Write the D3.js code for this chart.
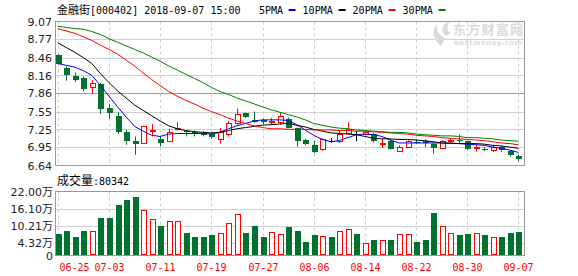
<!DOCTYPE html>
<html>
<head>
<meta charset="utf-8">
<script src="https://cdn.jsdelivr.net/npm/d3@7"></script>
<style>
body { margin: 0; background: #fff; }
svg { display: block; }
</style>
</head>
<body>
<svg id="chart"></svg>
<script>
/*
	K-line chart: 金融街 daily candles, MA lines and volume
*/

var dates = ["06-25","06-26","06-27","06-28","06-29","07-02","07-03","07-04","07-05","07-06",
	"07-09","07-10","07-11","07-12","07-13","07-16","07-17","07-18","07-19","07-20",
	"07-23","07-24","07-25","07-26","07-27","07-30","07-31","08-01","08-02","08-03",
	"08-06","08-07","08-08","08-09","08-10","08-13","08-14","08-15","08-16","08-17",
	"08-20","08-21","08-22","08-23","08-24","08-27","08-28","08-29","08-30","08-31",
	"09-03","09-04","09-05","09-06","09-07"];

var open = [8.51,8.28,8.15,8.12,7.96,8.01,7.61,7.48,7.20,7.06,
	7.02,7.23,7.08,7.05,7.25,7.22,7.20,7.19,7.18,7.08,
	7.17,7.36,7.52,7.41,7.41,7.37,7.38,7.43,7.27,7.07,
	6.99,6.91,7.05,7.05,7.19,7.17,7.17,7.17,7.00,7.06,
	6.89,6.96,7.04,7.05,7.00,6.94,7.05,7.07,7.05,6.94,
	6.91,6.90,6.95,6.88,6.80];
var close = [8.36,8.17,8.08,7.93,8.03,7.60,7.53,7.20,7.06,7.00,
	7.30,7.24,7.02,7.20,7.27,7.20,7.17,7.16,7.12,7.20,
	7.36,7.51,7.45,7.38,7.37,7.39,7.48,7.28,7.06,7.00,
	6.86,7.09,7.05,7.18,7.26,7.17,7.20,7.05,7.02,6.92,
	6.95,7.05,7.02,7.02,6.94,7.05,7.07,7.05,6.91,6.96,
	6.90,6.96,6.90,6.81,6.75];
var high = [8.52,8.31,8.21,8.14,8.08,8.03,7.68,7.54,7.24,7.13,
	7.31,7.34,7.13,7.26,7.37,7.24,7.23,7.22,7.20,7.27,
	7.39,7.60,7.53,7.55,7.43,7.44,7.53,7.45,7.28,7.09,
	7.06,7.10,7.10,7.23,7.37,7.22,7.22,7.19,7.09,7.08,
	6.98,7.07,7.08,7.08,7.02,7.07,7.10,7.16,7.06,6.99,
	6.95,6.99,6.98,6.90,6.82];
var low = [8.35,8.07,8.05,7.89,7.85,7.51,7.43,7.17,6.99,6.82,
	7.02,7.13,6.96,7.05,7.23,7.13,7.13,7.13,7.09,7.01,
	7.13,7.33,7.44,7.36,7.34,7.33,7.33,7.27,6.96,6.98,
	6.85,6.89,7.02,7.02,7.17,7.05,7.15,7.03,6.94,6.91,
	6.88,6.95,7.01,6.95,6.84,6.93,7.02,7.02,6.90,6.87,
	6.88,6.87,6.87,6.79,6.71];

// volume, in 万 (10k shares)
var volume = [7.56,8.59,6.53,8.59,8.59,13.06,12.72,17.53,19.25,20.28,
	15.47,12.60,10.31,11.69,11.69,7.90,6.19,6.53,6.88,7.80,
	11.23,14.33,7.90,10.31,6.53,8.14,7.45,9.63,8.59,4.47,
	6.88,6.76,6.53,8.59,8.94,7.22,4.35,5.16,5.50,5.50,
	7.45,7.45,4.47,5.16,14.44,10.20,7.80,6.88,7.56,7.80,
	6.88,6.42,6.53,7.90,8.0342];

var ma5 = [8.36,8.33,8.30,8.24,8.16,7.99,7.81,7.63,7.46,7.30,
	7.22,7.15,7.13,7.17,7.18,7.18,7.18,7.18,7.17,7.20,
	7.26,7.31,7.35,7.39,7.41,7.41,7.41,7.40,7.33,7.24,
	7.15,7.08,7.04,7.06,7.11,7.16,7.17,7.16,7.13,7.07,
	7.02,7.02,7.02,7.02,7.02,7.02,7.01,7.01,7.00,6.99,
	6.98,6.95,6.93,6.90,6.86];
var ma10 = [8.71,8.63,8.55,8.46,8.36,8.19,8.04,7.90,7.78,7.66,
	7.57,7.48,7.39,7.31,7.26,7.23,7.21,7.20,7.19,7.20,
	7.23,7.26,7.28,7.30,7.32,7.33,7.34,7.35,7.32,7.29,
	7.25,7.22,7.19,7.18,7.17,7.16,7.13,7.10,7.09,7.09,
	7.08,7.08,7.07,7.06,7.04,7.02,7.02,7.01,7.01,7.01,
	7.00,6.98,6.97,6.95,6.93];
var ma20 = [8.95,8.91,8.87,8.81,8.75,8.67,8.60,8.52,8.42,8.32,
	8.20,8.09,7.99,7.89,7.81,7.74,7.68,7.61,7.55,7.50,
	7.44,7.39,7.35,7.31,7.28,7.26,7.26,7.25,7.25,7.25,
	7.24,7.24,7.24,7.23,7.23,7.22,7.22,7.21,7.20,7.19,
	7.18,7.17,7.15,7.14,7.13,7.11,7.10,7.09,7.08,7.07,
	7.06,7.04,7.02,7.01,6.99];
var ma30 = [8.99,8.97,8.95,8.94,8.90,8.85,8.78,8.72,8.66,8.60,
	8.54,8.47,8.40,8.32,8.25,8.18,8.11,8.04,7.96,7.89,
	7.84,7.78,7.73,7.68,7.63,7.58,7.54,7.50,7.46,7.41,
	7.35,7.32,7.29,7.27,7.26,7.24,7.23,7.22,7.21,7.20,
	7.20,7.19,7.17,7.16,7.15,7.14,7.14,7.13,7.11,7.11,
	7.10,7.09,7.07,7.06,7.05];

var priceTicks = ["9.07","8.77","8.46","8.16","7.86","7.55","7.25","6.95","6.64"];
var volTicks = ["22.00","16.10","10.21","4.32","0"];
var labelDates = ["06-25","07-03","07-11","07-19","07-27","08-06","08-14","08-22","08-30","09-07"];

var maNames = ["5PMA","10PMA","20PMA","30PMA"];
var maColors = ["#0000ff","#000000","#ff0000","#008000"];
var maData = [ma5, ma10, ma20, ma30];

var upCol = "#ff0000";
var downCol = "#00712f";

var W = 578, H = 276;
var left = 55.5, right = 524.5;
var pTop = 21.5, pBot = 165.5;
var vTop = 191.5, vBot = 255.5;

var svg = d3.select("#chart").attr("width", W).attr("height", H);

// Scales
var x = d3.scalePoint().domain(dates).range([57.8, 518.4]);
var y = d3.scaleLinear().domain([6.64, 9.07]).range([pBot, pTop]);
var yv = d3.scaleLinear().domain([0, 22]).range([vBot, vTop]);

var cx = function(d) { return Math.round(x(d)); };
var px = function(v) { return Math.round(v) + 0.5; };

var days = dates.map(function(d, i) {
	var dir = close[i] > open[i] ? 1 : (close[i] < open[i] ? -1 : 0);
	var vdir = dir;
	if (dir == 0) { vdir = (i > 0 && close[i] >= close[i-1]) ? 1 : -1; }
	return {date: d, o: open[i], c: close[i], h: high[i], l: low[i], v: volume[i], dir: dir, vdir: vdir};
});

/*
	Grid
*/
var grid = svg.append("g");

// price horizontal lines
grid.selectAll("line.ph")
	.data(priceTicks.slice(1, -1))
	.enter().append("line")
	.attr("x1", left).attr("x2", right)
	.attr("y1", function(d) { return px(y(+d)); })
	.attr("y2", function(d) { return px(y(+d)); })
	.style("stroke", function(d) { return d == "7.86" ? "#999" : "#d0d0d0"; })
	.style("stroke-width", 1);

// volume horizontal lines
grid.selectAll("line.vh")
	.data(volTicks.slice(1, -1))
	.enter().append("line")
	.attr("x1", left).attr("x2", right)
	.attr("y1", function(d) { return px(yv(+d)); })
	.attr("y2", function(d) { return px(yv(+d)); })
	.style("stroke", "#d0d0d0");

// dashed verticals
[[pTop, pBot], [vTop, vBot]].forEach(function(r) {
	grid.selectAll(null)
		.data(labelDates)
		.enter().append("line")
		.attr("x1", function(d) { return cx(d) + 0.5; })
		.attr("x2", function(d) { return cx(d) + 0.5; })
		.attr("y1", r[0]).attr("y2", r[1])
		.style("stroke", "#ccc")
		.style("stroke-dasharray", "3,3");
});

// watermark
var wm = svg.append("g").style("fill", "#dadada");
wm.append("path")
	.attr("d", "M441,46 C433,40 431,30 437,24 C436,31 440,36 445,38 Z M446,36 C440,31 441,25 450,21 C446,27 447,31 451,33 Z");
wm.append("text")
	.attr("x", 453).attr("y", 34)
	.style("font-family", "'Noto Sans CJK SC', sans-serif")
	.style("font-size", "13px").style("font-weight", "bold")
	.attr("textLength", 70)
	.text("东方财富网");
wm.append("text")
	.attr("x", 454).attr("y", 45)
	.style("font-family", "'DejaVu Sans', sans-serif")
	.style("font-size", "7px").style("font-weight", "bold")
	.attr("textLength", 68)
	.text("eastmoney.com");

/*
	Candles
*/
var cg = svg.append("g");
cg.selectAll("line.wick")
	.data(days)
	.enter().append("line")
	.attr("x1", function(d) { return cx(d.date) + 0.5; })
	.attr("x2", function(d) { return cx(d.date) + 0.5; })
	.attr("y1", function(d) { return y(d.h); })
	.attr("y2", function(d) { return y(d.l); })
	.style("stroke", function(d) { return d.dir > 0 ? upCol : (d.dir < 0 ? downCol : "#000"); });

// down candles: filled
cg.selectAll("rect.down")
	.data(days.filter(function(d) { return d.dir < 0; }))
	.enter().append("rect")
	.attr("x", function(d) { return cx(d.date) - 2; })
	.attr("width", 6)
	.attr("y", function(d) { return Math.round(y(d.o)); })
	.attr("height", function(d) { return Math.max(1, Math.round(y(d.c)) - Math.round(y(d.o))); })
	.style("fill", downCol);

// up candles: hollow
cg.selectAll("rect.up")
	.data(days.filter(function(d) { return d.dir > 0; }))
	.enter().append("rect")
	.attr("x", function(d) { return cx(d.date) - 1.5; })
	.attr("width", 5)
	.attr("y", function(d) { return px(y(d.c)); })
	.attr("height", function(d) { return Math.max(1, Math.round(y(d.o)) - Math.round(y(d.c))); })
	.style("fill", "#fff")
	.style("stroke", upCol);

// doji: flat bar
cg.selectAll("line.doji")
	.data(days.filter(function(d) { return d.dir == 0; }))
	.enter().append("line")
	.attr("x1", function(d) { return cx(d.date) - 2; })
	.attr("x2", function(d) { return cx(d.date) + 4; })
	.attr("y1", function(d) { return px(y(d.c)); })
	.attr("y2", function(d) { return px(y(d.c)); })
	.style("stroke", "#000");

/*
	Moving averages
*/
var line = d3.line()
	.x(function(d, i) { return x(dates[i]); })
	.y(function(d) { return y(d); });

svg.append("g").selectAll("path")
	.data(maData)
	.enter().append("path")
	.attr("d", line)
	.style("fill", "none")
	.style("stroke", function(d, i) { return maColors[i]; })
	.style("stroke-width", 1);

/*
	Volume bars
*/
var vg = svg.append("g");
vg.selectAll("rect.vd")
	.data(days.filter(function(d) { return d.vdir < 0; }))
	.enter().append("rect")
	.attr("x", function(d) { return cx(d.date) - 2; })
	.attr("width", 6)
	.attr("y", function(d) { return Math.round(yv(d.v)); })
	.attr("height", function(d) { return vBot - Math.round(yv(d.v)); })
	.style("fill", downCol);
vg.selectAll("rect.vu")
	.data(days.filter(function(d) { return d.vdir > 0; }))
	.enter().append("rect")
	.attr("x", function(d) { return cx(d.date) - 1.5; })
	.attr("width", 5)
	.attr("y", function(d) { return px(yv(d.v)); })
	.attr("height", function(d) { return vBot - 1 - px(yv(d.v)); })
	.style("fill", "#fff")
	.style("stroke", upCol);

/*
	Frames
*/
svg.append("rect")
	.attr("x", left).attr("y", pTop)
	.attr("width", right - left).attr("height", pBot - pTop)
	.style("fill", "none").style("stroke", "#999");
svg.append("rect")
	.attr("x", left).attr("y", vTop)
	.attr("width", right - left).attr("height", vBot - vTop)
	.style("fill", "none").style("stroke", "#999");

/*
	Texts
*/
var numFont = "'DejaVu Sans', sans-serif";
var monoFont = "'DejaVu Sans Mono', monospace";
var cjkFont = "'Noto Sans CJK SC', sans-serif";

svg.append("g").selectAll("text")
	.data(priceTicks)
	.enter().append("text")
	.attr("x", 52)
	.attr("y", function(d) { return y(+d); })
	.attr("dy", "0.38em")
	.style("text-anchor", "end")
	.style("font-family", numFont)
	.style("font-size", "11px")
	.style("fill", "#222")
	.text(function(d) { return d; });

var vt = svg.append("g").selectAll("text")
	.data(volTicks)
	.enter().append("text")
	.attr("x", 53)
	.attr("y", function(d) { return yv(+d); })
	.attr("dy", "0.38em")
	.style("text-anchor", "end")
	.style("font-family", numFont)
	.style("font-size", "11px")
	.style("fill", "#222");
vt.append("tspan").text(function(d) { return d; });
vt.append("tspan")
	.style("font-family", cjkFont)
	.style("font-size", "11px")
	.text(function(d) { return d == "0" ? "" : "万"; });

svg.append("g").selectAll("text")
	.data(labelDates)
	.enter().append("text")
	.attr("x", function(d, i) { return i == 0 ? cx(d) + 1.5 : cx(d) + 0.5; })
	.attr("y", 271)
	.style("text-anchor", function(d, i) { return i == 0 ? "start" : "middle"; })
	.style("font-family", monoFont)
	.style("font-size", "10px")
	.style("fill", "#ff0000")
	.text(function(d) { return d; });

// title
var title = svg.append("text").attr("x", 57).attr("y", 14).style("fill", "#000");
title.append("tspan").style("font-family", cjkFont).style("font-size", "11px").text("金融街");
title.append("tspan").style("font-family", monoFont).style("font-size", "10px").text("[000402] 2018-09-07 15:00");

// MA legend
var lx = 259;
maNames.forEach(function(n, i) {
	svg.append("text")
		.attr("x", lx).attr("y", 14)
		.style("font-family", monoFont)
		.style("font-size", "10px")
		.text(n);
	var tw = n.length * 6.4;
	svg.append("rect")
		.attr("x", lx + tw + 4).attr("y", 9)
		.attr("width", 7).attr("height", 2)
		.style("fill", maColors[i]);
	lx += tw + 18;
});

// volume caption
var vcap = svg.append("text").attr("x", 57).attr("y", 185).style("fill", "#000");
vcap.append("tspan").style("font-family", cjkFont).style("font-size", "12px").text("成交量");
vcap.append("tspan").style("font-family", monoFont).style("font-size", "10px")
	.text(":" + Math.round(volume[volume.length - 1] * 10000));
</script>
</body>
</html>
